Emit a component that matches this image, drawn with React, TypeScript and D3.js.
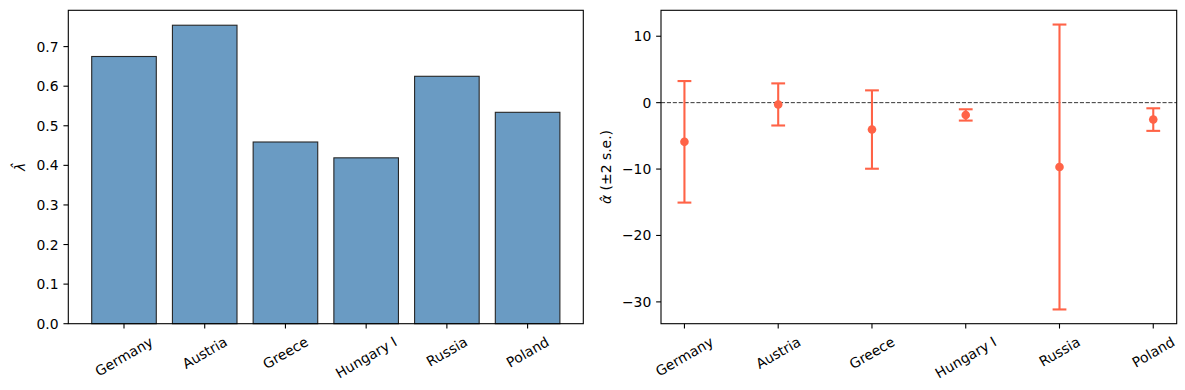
import { useRef, useEffect } from 'react';
import * as d3 from 'd3';

const countries = ['Germany', 'Austria', 'Greece', 'Hungary I', 'Russia', 'Poland'];
const lambdaHat = [0.675, 0.754, 0.459, 0.419, 0.625, 0.534];
const alphaHat = [-5.9, -0.27, -4.05, -1.85, -9.69, -2.55];
const alphaErr = [9.15, 3.17, 5.9, 0.85, 21.45, 1.7];
const lambdaTicks = [0, 0.1, 0.2, 0.3, 0.4, 0.5, 0.6, 0.7];
const alphaTicks = [10, 0, -10, -20, -30];

const WIDTH = 1185;
const HEIGHT = 390;
const FONT = 'DejaVu Sans, sans-serif';
const FS = 13.9;
const TICK = 4.86;
const PAD = 4.86;

export default function App() {
  const svgRef = useRef<SVGSVGElement>(null);

  useEffect(() => {
    if (!svgRef.current) return;
    const svg = d3.select(svgRef.current);
    svg.selectAll('*').remove();

    const top = 10.3;
    const bottom = 323.7;

    // rotated category labels, matplotlib style: ha=center, va=top, rotation=30
    const drawXLabels = (g: d3.Selection<SVGGElement, unknown, null, undefined>, x: (i: number) => number) => {
      countries.forEach((c, i) => {
        const t = g
          .append('text')
          .attr('font-family', FONT)
          .attr('font-size', FS)
          .attr('fill', '#000')
          .attr('text-anchor', 'middle')
          .attr('dominant-baseline', 'central')
          .text(c);
        const w = (t.node() as SVGTextElement).getComputedTextLength();
        const h = FS * 1.16;
        const a = Math.PI / 6;
        const H = w * Math.sin(a) + h * Math.cos(a);
        const cy = bottom + TICK + PAD + H / 2;
        t.attr('transform', `translate(${x(i)},${cy}) rotate(-30)`);
        g.append('line')
          .attr('x1', x(i)).attr('x2', x(i))
          .attr('y1', bottom).attr('y2', bottom + TICK)
          .attr('stroke', '#000').attr('stroke-width', 1.1);
      });
    };

    const drawYTicks = (
      g: d3.Selection<SVGGElement, unknown, null, undefined>,
      left: number,
      ticks: number[],
      y: d3.ScaleLinear<number, number>,
      fmt: (v: number) => string
    ) => {
      ticks.forEach((v) => {
        g.append('line')
          .attr('x1', left - TICK).attr('x2', left)
          .attr('y1', y(v)).attr('y2', y(v))
          .attr('stroke', '#000').attr('stroke-width', 1.1);
        g.append('text')
          .attr('x', left - TICK - PAD)
          .attr('y', y(v))
          .attr('text-anchor', 'end')
          .attr('dominant-baseline', 'central')
          .attr('font-family', FONT)
          .attr('font-size', FS)
          .text(fmt(v));
      });
    };

    const frame = (g: d3.Selection<SVGGElement, unknown, null, undefined>, l: number, r: number) => {
      g.append('rect')
        .attr('x', l).attr('y', top)
        .attr('width', r - l).attr('height', bottom - top)
        .attr('fill', 'none').attr('stroke', '#000').attr('stroke-width', 1.1);
    };

    // ---- Left panel: bars ----
    const L1 = 68.3, R1 = 583.3;
    const g1 = svg.append('g');
    const x1 = d3.scaleLinear().domain([-0.69, countries.length - 1 + 0.69]).range([L1, R1]);
    const y1 = d3.scaleLinear().domain([0, d3.max(lambdaHat)! * 1.05]).range([bottom, top]);
    const bw = x1(0.8) - x1(0);

    g1.selectAll('rect.bar')
      .data(lambdaHat)
      .join('rect')
      .attr('class', 'bar')
      .attr('x', (_, i) => x1(i) - bw / 2)
      .attr('y', (d) => y1(d))
      .attr('width', bw)
      .attr('height', (d) => bottom - y1(d))
      .attr('fill', '#6a9bc3')
      .attr('stroke', '#262626')
      .attr('stroke-width', 1.1);

    frame(g1, L1, R1);
    drawYTicks(g1, L1, lambdaTicks, y1, (v) => v.toFixed(1));
    drawXLabels(g1, (i) => x1(i));

    g1.append('text')
      .attr('transform', `translate(20,${(top + bottom) / 2}) rotate(-90)`)
      .attr('text-anchor', 'middle')
      .attr('dominant-baseline', 'central')
      .attr('font-family', FONT)
      .attr('font-size', FS)
      .attr('font-style', 'italic')
      .text('λ\u0302');

    // ---- Right panel: error bars ----
    const L2 = 661, R2 = 1176.7;
    const g2 = svg.append('g');
    const x2 = d3.scaleLinear().domain([-0.25, countries.length - 1 + 0.25]).range([L2, R2]);
    const lo = d3.min(alphaHat.map((v, i) => v - alphaErr[i]))!;
    const hi = d3.max(alphaHat.map((v, i) => v + alphaErr[i]))!;
    const m = (hi - lo) * 0.05;
    const y2 = d3.scaleLinear().domain([lo - m, hi + m]).range([bottom, top]);
    const color = '#ff6347';
    const cap = 6.9;

    g2.append('line')
      .attr('x1', L2).attr('x2', R2)
      .attr('y1', y2(0)).attr('y2', y2(0))
      .attr('stroke', '#000').attr('stroke-width', 0.8)
      .attr('stroke-dasharray', '4.1,1.8');

    alphaHat.forEach((v, i) => {
      const cx = x2(i);
      const yt = y2(v + alphaErr[i]);
      const yb = y2(v - alphaErr[i]);
      g2.append('line')
        .attr('x1', cx).attr('x2', cx).attr('y1', yt).attr('y2', yb)
        .attr('stroke', color).attr('stroke-width', 2.1);
      [yt, yb].forEach((yy) => {
        g2.append('line')
          .attr('x1', cx - cap).attr('x2', cx + cap).attr('y1', yy).attr('y2', yy)
          .attr('stroke', color).attr('stroke-width', 2.1);
      });
      g2.append('circle')
        .attr('cx', cx).attr('cy', y2(v)).attr('r', 4.3)
        .attr('fill', color);
    });

    frame(g2, L2, R2);
    drawYTicks(g2, L2, alphaTicks, y2, (v) => (v < 0 ? '\u2212' + Math.abs(v) : String(v)));
    drawXLabels(g2, (i) => x2(i));

    const yl = g2.append('text')
      .attr('transform', `translate(605.5,${(top + bottom) / 2}) rotate(-90)`)
      .attr('text-anchor', 'middle')
      .attr('dominant-baseline', 'central')
      .attr('font-family', FONT)
      .attr('font-size', FS);
    yl.append('tspan').attr('font-style', 'italic').text('α\u0302');
    yl.append('tspan').text(' (±2 s.e.)');
  }, []);

  return (
    <svg
      ref={svgRef}
      width={WIDTH}
      height={HEIGHT}
      style={{ position: 'absolute', left: 0, top: 0, background: '#fff' }}
    />
  );
}
